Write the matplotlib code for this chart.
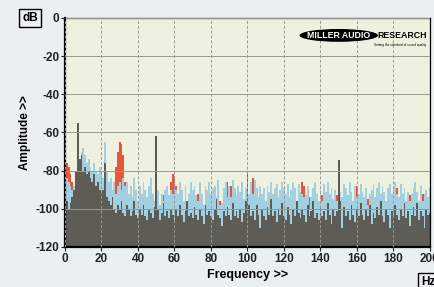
import matplotlib.pyplot as plt
from matplotlib.patches import Ellipse
import numpy as np

plt.rcParams['font.family'] = ['Liberation Sans', 'DejaVu Sans']

# spectrum, 1 Hz bins, 0..200 Hz (dB)
freq = np.arange(0, 201)

blue = [-86, -84, -86, -88, -90, -88, -84, -78, -74, -70,
        -68, -72, -76, -74, -78, -80, -76, -80, -82, -78,
        -82, -84, -65, -80, -86, -84, -90, -86, -92, -88,
        -86, -90, -84, -88, -86, -92, -88, -94, -84, -90,
        -96, -88, -92, -86, -90, -94, -88, -84, -92, -96,
        -88, -90, -98, -92, -96, -90, -88, -93, -90, -92,
        -88, -90, -92, -86, -90, -96, -88, -98, -92, -86,
        -90, -88, -93, -96, -86, -92, -98, -88, -90, -86,
        -92, -89, -88, -94, -85, -98, -97, -89, -86, -94,
        -88, -94, -85, -89, -93, -88, -91, -86, -95, -89,
        -88, -92, -86, -92, -85, -89, -94, -88, -92, -89,
        -96, -88, -91, -86, -92, -89, -87, -94, -90, -86,
        -89, -92, -87, -94, -90, -86, -89, -96, -87, -91,
        -92, -94, -93, -88, -100, -94, -89, -86, -92, -96,
        -89, -96, -87, -91, -86, -92, -89, -95, -90, -96,
        -85, -91, -94, -87, -89, -93, -86, -91, -96, -88,
        -94, -92, -87, -91, -94, -89, -98, -92, -90, -87,
        -94, -89, -86, -92, -88, -91, -96, -89, -87, -92,
        -89, -86, -92, -94, -87, -92, -89, -96, -91, -96,
        -92, -89, -86, -91, -96, -88, -96, -92, -90, -94,
        -89]

gray = [-98, -96, -100, -97, -94, -90, -80, -55, -74, -72,
        -80, -78, -82, -80, -84, -86, -82, -88, -86, -90,
        -92, -90, -76, -94, -96, -98, -94, -100, -102, -98,
        -100, -96, -102, -104, -98, -100, -104, -101, -96, -103,
        -105, -100, -103, -98, -104, -106, -100, -102, -105, -99,
        -62, -100, -106, -102, -97, -104, -101, -105, -100, -103,
        -106, -100, -104, -98, -103, -107, -101, -96, -104, -102,
        -105, -99, -103, -106, -100, -104, -108, -98, -103, -101,
        -104, -106, -100, -95, -103, -105, -109, -101, -104, -99,
        -103, -106, -97, -104, -101, -105, -100, -107, -102, -96,
        -80, -98, -104, -101, -106, -98, -103, -110, -100, -104,
        -106, -99, -103, -95, -104, -101, -107, -100, -103, -97,
        -104, -106, -99, -103, -108, -100, -104, -96, -102, -105,
        -100, -103, -107, -98, -104, -101, -96, -105, -102, -106,
        -99, -104, -101, -106, -97, -103, -108, -100, -104, -101,
        -74.5, -96, -110, -99, -104, -101, -106, -98, -103, -107,
        -100, -104, -97, -103, -106, -100, -104, -98, -108, -102,
        -105, -99, -103, -96, -104, -107, -100, -103, -110, -101,
        -104, -98, -103, -106, -100, -104, -97, -105, -101, -109,
        -103, -99, -104, -97, -106, -101, -104, -110, -100, -103,
        -102]

red = [-77, -76, -78, -82, -86, -94, -110, -110, -110, -110,
       -110, -110, -110, -110, -110, -110, -110, -110, -110, -110,
       -110, -110, -110, -83, -110, -110, -110, -110, -78, -70,
       -65, -66, -72, -86, -110, -110, -110, -110, -110, -110,
       -110, -110, -110, -110, -110, -110, -110, -110, -110, -110,
       -110, -110, -110, -110, -93, -110, -110, -110, -86, -82,
       -83, -88, -110, -110, -110, -110, -110, -96, -110, -110,
       -110, -110, -110, -92, -110, -110, -110, -110, -110, -110,
       -110, -110, -110, -110, -110, -96, -110, -110, -110, -86,
       -110, -88, -110, -110, -110, -110, -110, -110, -110, -110,
       -110, -110, -110, -84, -110, -110, -110, -110, -110, -110,
       -110, -110, -110, -110, -110, -110, -110, -110, -110, -110,
       -110, -110, -110, -110, -110, -110, -110, -110, -110, -110,
       -86, -88, -110, -110, -94, -110, -110, -110, -110, -110,
       -110, -93, -110, -110, -110, -110, -110, -110, -110, -93,
       -110, -110, -110, -110, -110, -110, -110, -110, -110, -110,
       -88, -110, -110, -110, -110, -110, -95, -110, -110, -110,
       -110, -110, -110, -110, -110, -110, -110, -110, -110, -110,
       -110, -110, -89, -110, -110, -110, -110, -110, -110, -93,
       -110, -110, -110, -110, -110, -110, -92, -110, -110, -110,
       -110]

xticks = list(range(0, 201, 20))
yticks = list(range(0, -121, -20))

fig = plt.figure(figsize=(4.35, 2.87), dpi=100, facecolor='#eaeff2')
ax = fig.add_axes([0.1494, 0.1394, 0.8391, 0.7979], facecolor='#eef0e0')

ax.fill_between(freq, -120, red, step='mid', color='#e9553a', lw=0)
ax.fill_between(freq, -120, blue, step='mid', color='#a3d0e0', lw=0)
ax.fill_between(freq, -120, gray, step='mid', color='#5d5d56', lw=0)

ax.set_xlim(0, 200)
ax.set_ylim(-120, 0)
ax.set_xticks(xticks)
ax.set_yticks(yticks)
ax.set_xticklabels([str(t) for t in xticks], fontsize=8.5, fontweight='bold')
ax.set_yticklabels([str(t) for t in yticks], fontsize=8.5, fontweight='bold')
ax.tick_params(length=3, width=0.8, pad=1, colors='#222222')
ax.set_axisbelow(False)
ax.xaxis.grid(True, linestyle=(0, (3, 2)), color='#9a9a92', lw=0.7)
ax.yaxis.grid(True, linestyle='-', color='#9a9a92', lw=0.7)
for s in ['left', 'bottom']:
    ax.spines[s].set_linewidth(1.6)
for s in ['top', 'right']:
    ax.spines[s].set_linewidth(0.9)

ax.set_xlabel('Frequency >>', fontsize=9, fontweight='bold', labelpad=3)
ax.set_ylabel('Amplitude >>', fontsize=8.5, fontweight='bold', labelpad=3)

fig.text(30 / 435, 1 - 18 / 287, 'dB', fontsize=8.5, fontweight='bold',
         ha='center', va='center',
         bbox=dict(boxstyle='square,pad=0.25', fc='#eaeff2', ec='black', lw=1))
fig.text(428 / 435, 1 - 282 / 287, 'Hz', fontsize=8.5, fontweight='bold',
         ha='center', va='center',
         bbox=dict(boxstyle='square,pad=0.25', fc='#eaeff2', ec='black', lw=1))

# logo
ax.add_patch(Ellipse((0.75, 0.924), 0.215, 0.056, transform=ax.transAxes,
                     facecolor='black', edgecolor='none', zorder=5))
ax.text(0.75, 0.922, 'MILLER AUDIO', transform=ax.transAxes, color='white',
        fontsize=6.3, fontweight='bold', ha='center', va='center', zorder=6)
ax.text(0.856, 0.922, 'RESEARCH', transform=ax.transAxes, color='black',
        fontsize=6.3, fontweight='bold', ha='left', va='center', zorder=6)
ax.text(0.99, 0.88, 'Setting the standard of sound quality', transform=ax.transAxes,
        color='black', fontsize=2.3, ha='right', va='center', zorder=6)

fig.savefig('out.png', dpi=100, facecolor=fig.get_facecolor())
